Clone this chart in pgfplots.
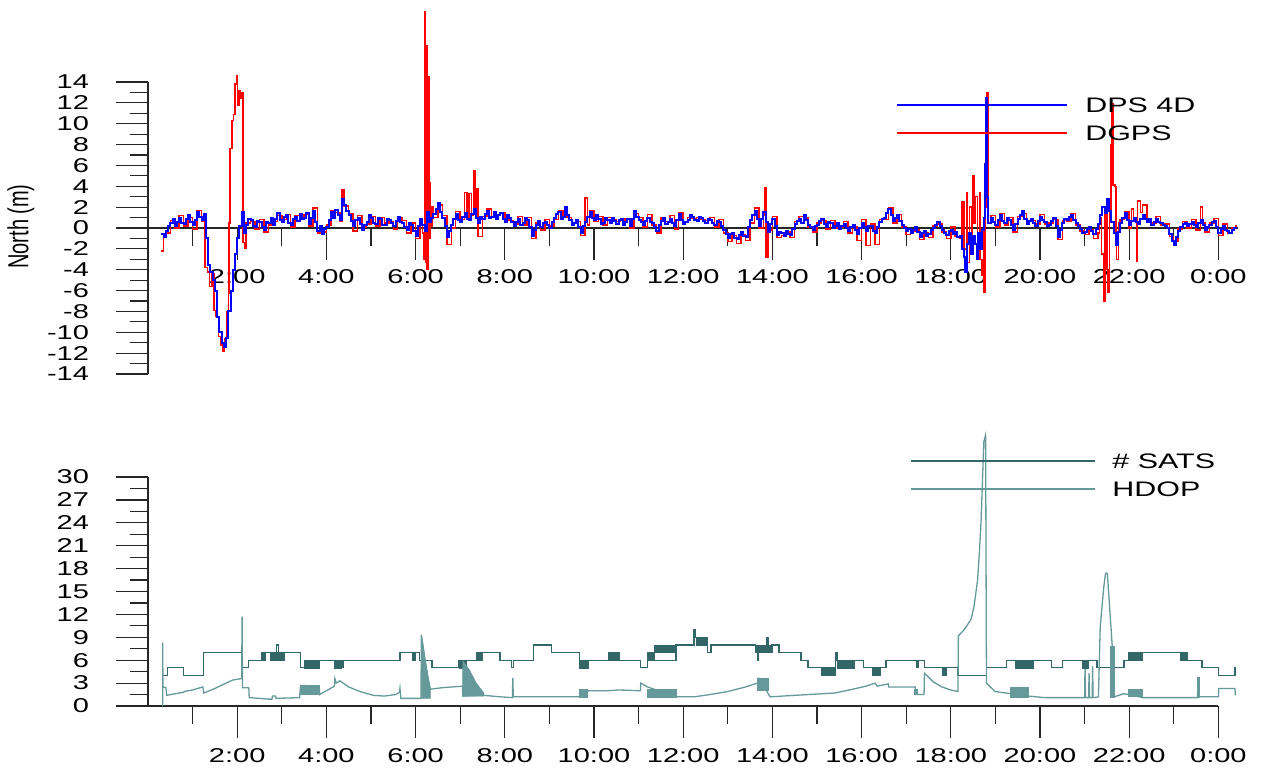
\documentclass[border=0pt]{standalone}
\usepackage{fontspec}
\setmainfont{Liberation Sans}[FakeStretch=1.45]
\newfontfamily\plainsans{Liberation Sans}
\usepackage{graphicx}
\usepackage{pgfplots}
\pgfplotsset{compat=1.18}
\definecolor{satsc}{RGB}{51,102,102}
\definecolor{hdopc}{RGB}{102,153,153}
\newcommand{\sblk}[4]{\addplot[fill=satsc, draw=satsc, line width=0.3pt, forget plot] coordinates {(#1,#3) (#1,#4) (#2,#4) (#2,#3)} --cycle;}
\newcommand{\hblk}[4]{\addplot[fill=hdopc, draw=hdopc, line width=0.3pt, forget plot] coordinates {(#1,#3) (#1,#4) (#2,#4) (#2,#3)} --cycle;}
\tikzset{legtext/.style={anchor=west, inner sep=0pt, text height=7.5pt, text depth=0pt, font=\fontsize{10.5}{12}\selectfont}}
\pgfplotsset{
  common/.style={
    scale only axis, clip=false,
    axis y line*=left,
    hide obscured x ticks=false, hide obscured y ticks=false,
    tick align=outside, major tick length=16pt, minor tick length=9pt,
    tick style={black!85, line width=0.6pt},
    minor tick style={black!85, line width=0.6pt},
    axis line style={black!85, line width=0.7pt},
    tick label style={font=\fontsize{10}{12}\selectfont},
    yticklabel style={xshift=-10pt},
    xticklabel style={yshift=-1.2pt},
    /pgf/number format/assume math mode=true,
    xtick={2,4,...,24},
    xticklabels={2:00,4:00,6:00,8:00,10:00,12:00,14:00,16:00,18:00,20:00,22:00,0:00},
    minor xtick={1,3,...,23},
  }
}
\begin{document}
\begin{tikzpicture}
\path[use as bounding box] (0,0) rectangle (632pt,386.5pt);
% ---------------- top panel ----------------
\begin{axis}[common,
  at={(74pt,199.5pt)}, anchor=south west,
  width=545.2pt, height=146pt,
  xmin=0, xmax=24.45, ymin=-14, ymax=14,
  axis x line*=middle,
  ytick={-14,-12,...,14}, minor ytick={-13,-11,...,13},
  ylabel={\scalebox{1}[1.45]{\plainsans North (m)}},
  every axis y label/.style={at={(axis description cs:-0.1165,0.505)}, anchor=center, rotate=90, font=\fontsize{10}{12}\selectfont},
]
\addplot[red, line width=0.75pt, const plot, forget plot] table {
h v
0.30 -2.2
0.35 -0.9
0.40 -0.5
0.50 0.7
0.60 0.0
0.70 1.2
0.80 0.2
0.90 1.0
1.00 -0.1
1.10 1.7
1.20 0.6
1.25 1.2
1.28 -3.8
1.33 -4.2
1.38 -5.6
1.43 -4.4
1.48 -7.9
1.53 -8.5
1.58 -10.4
1.63 -11.2
1.68 -11.8
1.72 -10.6
1.76 -8.0
1.80 -6.3
1.82 0.5
1.84 7.6
1.88 10.3
1.92 10.9
1.95 13.8
1.98 14.6
2.01 11.8
2.04 13.2
2.07 12.4
2.10 13.0
2.13 -1.4
2.16 -1.9
2.20 0.5
2.30 0.6
2.40 -0.1
2.50 0.8
2.60 -0.4
2.70 0.3
2.80 0.6
2.90 1.2
3.00 0.8
3.10 1.3
3.20 0.1
3.30 1.2
3.40 1.0
3.50 1.3
3.60 0.2
3.70 1.9
3.80 -0.5
3.90 -0.4
4.00 0.3
4.10 1.7
4.20 1.5
4.30 0.6
4.35 3.7
4.40 2.1
4.50 1.4
4.60 -0.3
4.70 1.2
4.80 0.1
4.90 0.4
5.00 1.1
5.10 0.2
5.20 1.0
5.30 0.5
5.40 0.6
5.50 -0.1
5.60 1.0
5.70 0.7
5.80 -0.5
5.90 0.5
6.00 -1.0
6.10 0.8
6.15 -0.5
6.18 -3.0
6.20 20.7
6.22 -3.3
6.24 17.5
6.26 -4.0
6.28 14.5
6.30 -1.0
6.32 4.3
6.34 0.2
6.37 2.0
6.40 1.0
6.50 2.2
6.60 1.2
6.70 -1.6
6.80 0.0
6.90 1.6
7.00 0.8
7.10 3.4
7.15 0.9
7.20 3.3
7.25 1.2
7.30 5.5
7.33 1.5
7.36 3.8
7.40 -0.8
7.50 1.1
7.60 1.8
7.70 1.0
7.80 1.2
7.90 1.5
8.00 0.8
8.10 0.7
8.20 0.4
8.30 1.1
8.40 0.3
8.50 1.0
8.60 -1.0
8.70 0.5
8.80 -0.2
8.90 0.8
9.00 0.2
9.10 0.8
9.20 1.7
9.30 1.0
9.35 1.9
9.40 1.0
9.50 0.5
9.60 0.6
9.70 -0.7
9.80 2.9
9.85 0.3
9.90 1.7
10.00 0.6
10.10 1.1
10.20 0.3
10.30 1.0
10.40 0.8
10.50 0.6
10.60 0.7
10.70 0.9
10.80 0.0
10.90 1.4
11.00 1.0
11.10 0.1
11.20 1.3
11.30 0.3
11.40 -0.5
11.50 1.0
11.60 0.6
11.70 1.2
11.80 -0.1
11.90 1.5
12.00 0.6
12.10 1.0
12.20 0.9
12.30 1.0
12.40 0.8
12.50 0.7
12.60 1.0
12.70 0.1
12.80 0.8
12.90 -0.5
13.00 -1.3
13.10 -0.7
13.20 -1.5
13.30 -0.6
13.40 -1.2
13.50 0.5
13.60 1.9
13.70 0.0
13.80 1.2
13.83 3.9
13.86 -2.8
13.90 -0.2
14.00 1.1
14.10 -0.9
14.20 -0.7
14.30 -0.4
14.40 -0.9
14.50 0.6
14.60 1.1
14.70 1.0
14.80 0.1
14.90 -0.4
15.00 0.5
15.10 0.7
15.20 -0.1
15.30 0.7
15.40 0.0
15.50 0.1
15.60 0.6
15.70 -0.5
15.80 0.1
15.90 -1.2
16.00 0.8
16.10 -1.7
16.20 0.4
16.30 -1.6
16.40 0.8
16.50 0.8
16.60 1.9
16.70 0.5
16.80 1.3
16.90 0.1
17.00 -0.6
17.10 -0.3
17.20 -0.2
17.30 -1.1
17.40 -0.5
17.50 -0.9
17.60 0.2
17.70 0.4
17.80 -0.4
17.90 -1.0
18.00 0.1
18.10 -0.8
18.20 -1.0
18.25 2.5
18.30 -2.0
18.36 3.4
18.38 -3.3
18.42 2.0
18.46 -1.5
18.49 5.0
18.52 0.5
18.56 3.0
18.60 -2.5
18.64 3.4
18.66 -3.0
18.70 -4.5
18.73 0.5
18.75 -6.2
18.78 2.0
18.80 13.0
18.83 12.0
18.85 0.5
18.90 1.2
19.00 0.1
19.10 1.4
19.20 0.3
19.30 1.0
19.40 -0.4
19.50 1.1
19.60 1.4
19.70 0.6
19.80 0.7
19.90 0.4
20.00 1.3
20.10 0.4
20.20 0.5
20.30 0.8
20.40 -1.1
20.50 0.7
20.60 0.6
20.70 1.4
20.80 0.3
20.90 -0.3
21.00 -0.6
21.10 -0.2
21.20 -1.0
21.30 -0.5
21.34 1.0
21.38 -2.5
21.42 -7.0
21.46 2.0
21.50 -4.0
21.53 -6.2
21.56 1.5
21.59 8.0
21.61 11.9
21.64 4.1
21.68 4.0
21.70 -1.5
21.72 -3.0
21.76 0.5
21.80 0.8
21.90 1.6
22.00 0.0
22.05 1.8
22.10 0.6
22.16 -3.2
22.19 2.6
22.25 1.5
22.30 2.2
22.40 0.8
22.50 0.5
22.60 1.1
22.70 0.3
22.80 0.4
22.90 -0.8
23.00 -1.3
23.10 -0.1
23.20 0.6
23.30 0.0
23.40 0.8
23.50 -0.2
23.60 2.0
23.65 0.5
23.70 -0.4
23.80 0.5
23.90 0.9
24.00 -0.7
24.10 0.4
24.20 -0.5
24.30 0.0
24.40 0.3
};
\addplot[blue, line width=1pt, const plot, forget plot] table {
h v
0.30 -0.6
0.35 -0.9
0.40 -0.3
0.45 0.2
0.50 0.5
0.55 0.9
0.60 0.2
0.65 0.6
0.70 1.0
0.75 0.5
0.80 0.4
0.85 0.9
0.90 1.2
0.95 0.6
1.00 0.3
1.05 0.8
1.10 1.5
1.15 1.1
1.20 0.8
1.25 1.3
1.30 -1.0
1.35 -3.5
1.40 -4.2
1.45 -5.0
1.50 -6.0
1.55 -8.5
1.60 -10.0
1.65 -11.0
1.70 -11.4
1.75 -10.5
1.80 -8.0
1.85 -6.0
1.90 -4.0
1.95 -2.5
2.00 -1.0
2.05 0.2
2.10 1.5
2.15 -0.5
2.20 0.3
2.25 0.9
2.30 0.8
2.35 0.2
2.40 0.1
2.45 0.7
2.50 0.6
2.55 0.1
2.60 -0.2
2.65 0.6
2.70 0.5
2.75 1.0
2.80 0.3
2.85 0.9
2.90 1.4
2.95 0.8
3.00 0.6
3.05 1.1
3.10 1.2
3.15 0.5
3.20 0.3
3.25 0.9
3.30 1.1
3.35 0.7
3.40 1.3
3.45 0.9
3.50 1.0
3.55 1.4
3.60 0.4
3.65 1.0
3.70 1.6
3.75 0.6
3.80 -0.3
3.85 0.2
3.90 -0.6
3.95 -0.1
4.00 0.1
4.05 0.8
4.10 1.5
4.15 1.0
4.20 1.7
4.25 1.2
4.30 0.8
4.35 2.8
4.40 2.2
4.45 1.6
4.50 1.2
4.55 0.7
4.60 0.2
4.65 0.8
4.70 1.0
4.75 0.4
4.80 -0.2
4.85 0.3
4.90 0.6
4.95 1.2
5.00 1.0
5.05 0.5
5.10 0.4
5.15 1.0
5.20 0.9
5.25 0.3
5.30 0.3
5.35 0.9
5.40 0.8
5.45 0.5
5.50 0.2
5.55 0.7
5.60 1.1
5.65 0.6
5.70 0.5
5.75 0.1
5.80 -0.2
5.85 0.5
5.90 0.3
5.95 -0.3
6.00 -0.8
6.05 0.2
6.10 0.9
6.15 0.3
6.20 -0.3
6.25 1.5
6.30 0.6
6.35 1.0
6.40 1.3
6.45 1.8
6.50 2.4
6.55 1.5
6.60 1.0
6.65 0.2
6.70 -0.9
6.75 -0.3
6.80 0.3
6.85 0.9
6.90 1.3
6.95 0.8
7.00 0.6
7.05 1.1
7.10 1.4
7.15 0.9
7.20 0.8
7.25 1.3
7.30 1.8
7.35 1.0
7.40 0.5
7.45 1.1
7.50 0.9
7.55 1.3
7.60 1.6
7.65 1.0
7.70 1.1
7.75 1.5
7.80 0.9
7.85 1.2
7.90 1.4
7.95 0.9
8.00 0.6
8.05 1.2
8.10 1.0
8.15 0.6
8.20 0.2
8.25 0.6
8.30 0.9
8.35 0.3
8.40 0.5
8.45 1.0
8.50 0.8
8.55 0.1
8.60 -0.8
8.65 -0.2
8.70 0.3
8.75 0.7
8.80 0.1
8.85 0.5
8.90 0.6
8.95 0.3
9.00 0.0
9.05 0.6
9.10 1.0
9.15 1.3
9.20 1.5
9.25 0.9
9.30 1.1
9.35 2.0
9.40 1.2
9.45 0.8
9.50 0.3
9.55 0.5
9.60 0.8
9.65 0.1
9.70 -0.5
9.75 0.2
9.80 0.6
9.85 1.1
9.90 1.5
9.95 1.0
10.00 0.8
10.05 1.2
10.10 0.9
10.15 0.4
10.20 0.5
10.25 1.0
10.30 0.8
10.35 0.5
10.40 1.0
10.45 0.7
10.50 0.4
10.55 0.8
10.60 0.9
10.65 0.3
10.70 0.6
10.75 0.9
10.80 0.2
10.85 0.9
10.90 1.6
10.95 1.1
11.00 0.8
11.05 0.6
11.10 0.3
11.15 0.7
11.20 1.0
11.25 0.6
11.30 0.5
11.35 0.1
11.40 -0.3
11.45 0.3
11.50 0.7
11.55 1.0
11.60 0.4
11.65 0.6
11.70 0.9
11.75 0.5
11.80 0.2
11.85 0.8
11.90 1.3
11.95 0.8
12.00 0.4
12.05 0.6
12.10 0.8
12.15 1.2
12.20 1.1
12.25 0.8
12.30 0.7
12.35 1.1
12.40 1.0
12.45 0.7
12.50 0.5
12.55 0.9
12.60 0.8
12.65 0.5
12.70 0.3
12.75 0.7
12.80 0.6
12.85 0.2
12.90 -0.2
12.95 -0.6
13.00 -1.0
13.05 -0.6
13.10 -0.5
13.15 -1.0
13.20 -1.1
13.25 -0.7
13.30 -0.4
13.35 -0.8
13.40 -0.9
13.45 0.1
13.50 0.8
13.55 1.2
13.60 1.6
13.65 0.9
13.70 0.2
13.75 0.9
13.80 1.5
13.85 0.6
13.90 -0.4
13.95 0.4
14.00 0.9
14.05 0.2
14.10 -0.7
14.15 -0.4
14.20 -0.5
14.25 -0.8
14.30 -0.3
14.35 -0.6
14.40 -0.7
14.45 -0.1
14.50 0.4
14.55 0.7
14.60 0.9
14.65 0.5
14.70 1.2
14.75 0.8
14.80 0.3
14.85 0.1
14.90 -0.2
14.95 0.2
15.00 0.3
15.05 0.7
15.10 0.9
15.15 0.4
15.20 0.1
15.25 0.6
15.30 0.5
15.35 0.0
15.40 0.2
15.45 0.5
15.50 -0.1
15.55 0.2
15.60 0.4
15.65 0.0
15.70 -0.3
15.75 0.1
15.80 0.3
15.85 -0.2
15.90 -0.6
15.95 0.0
16.00 0.5
16.05 0.1
16.10 -0.3
16.15 0.2
16.20 0.2
16.25 -0.3
16.30 -0.5
16.35 0.1
16.40 0.6
16.45 0.9
16.50 1.0
16.55 1.4
16.60 1.8
16.65 1.2
16.70 0.7
16.75 1.0
16.80 1.2
16.85 0.7
16.90 0.3
16.95 0.0
17.00 -0.3
17.05 -0.1
17.10 -0.5
17.15 -0.2
17.20 0.1
17.25 -0.4
17.30 -0.9
17.35 -0.5
17.40 -0.3
17.45 -0.8
17.50 -0.6
17.55 -0.2
17.60 0.0
17.65 0.3
17.70 0.6
17.75 0.2
17.80 -0.2
17.85 -0.5
17.90 -0.7
17.95 -0.3
18.00 -0.2
18.05 -0.6
18.10 -0.4
18.15 -0.9
18.20 -0.8
18.25 -2.0
18.30 -2.8
18.33 -4.2
18.37 -1.5
18.42 -0.5
18.46 -2.5
18.50 -0.8
18.55 -1.5
18.58 -3.0
18.62 -0.5
18.66 -2.0
18.70 -0.2
18.74 1.0
18.76 6.1
18.79 12.5
18.81 3.0
18.84 0.5
18.90 1.0
18.95 0.6
19.00 0.3
19.05 0.8
19.10 1.2
19.15 0.7
19.20 0.5
19.25 1.0
19.30 0.8
19.35 0.3
19.40 -0.2
19.45 0.4
19.50 0.9
19.55 1.2
19.60 1.6
19.65 0.9
19.70 0.4
19.75 0.7
19.80 0.9
19.85 0.5
19.90 0.2
19.95 0.7
20.00 1.1
20.05 0.8
20.10 0.6
20.15 0.2
20.20 0.3
20.25 0.7
20.30 1.0
20.35 0.2
20.40 -0.9
20.45 -0.2
20.50 0.5
20.55 0.9
20.60 0.8
20.65 1.1
20.70 1.2
20.75 0.8
20.80 0.5
20.85 0.2
20.90 -0.1
20.95 -0.5
21.00 -0.4
21.05 -0.1
21.10 0.1
21.15 -0.3
21.20 -0.6
21.25 -0.1
21.30 0.4
21.35 1.2
21.40 2.0
21.45 1.4
21.50 2.8
21.55 1.6
21.60 0.6
21.65 -0.5
21.70 -1.6
21.75 -0.4
21.80 0.5
21.85 1.0
21.90 1.4
21.95 0.8
22.00 0.3
22.05 0.7
22.10 1.0
22.15 0.6
22.20 0.4
22.25 0.9
22.30 1.2
22.35 0.9
22.40 0.6
22.45 0.9
22.50 0.3
22.55 0.6
22.60 0.9
22.65 0.6
22.70 0.5
22.75 0.3
22.80 0.2
22.85 0.0
22.90 -0.6
22.95 -1.2
23.00 -1.6
23.05 -0.9
23.10 -0.3
23.15 0.1
23.20 0.4
23.25 0.5
23.30 0.2
23.35 0.4
23.40 0.6
23.45 0.3
23.50 0.1
23.55 0.5
23.60 0.8
23.65 0.3
23.70 -0.2
23.75 0.1
23.80 0.3
23.85 0.6
23.90 0.7
23.95 0.1
24.00 -0.5
24.05 -0.1
24.10 0.2
24.15 -0.2
24.20 -0.3
24.25 -0.5
24.30 -0.2
24.35 0.0
24.40 0.1
};
% legend
\draw[blue, line width=0.7pt] (rel axis cs:0.6868,0.9212) -- (rel axis cs:0.8427,0.9212);
\draw[red, line width=0.7pt] (rel axis cs:0.6868,0.8253) -- (rel axis cs:0.8427,0.8253);
\node[legtext] at (rel axis cs:0.8592,0.9212) {DPS 4D};
\node[legtext] at (rel axis cs:0.8592,0.8253) {DGPS};
\end{axis}
% ---------------- bottom panel ----------------
\begin{axis}[common,
  at={(74pt,33.5pt)}, anchor=south west,
  width=535.2pt, height=114.5pt,
  xmin=0, xmax=24, ymin=0, ymax=30,
  axis x line*=bottom,
  xticklabel style={yshift=-0.6pt},
  ytick={0,3,...,30}, minor ytick={1.5,4.5,...,28.5},
]
\addplot[satsc, line width=0.65pt, const plot, forget plot] table {
h v
0.33 4
0.43 5
0.80 4
1.25 7
2.12 5
2.26 6
2.54 7
2.88 8
2.92 7
3.42 5
3.84 6
4.18 5
4.37 6
5.65 7
6.09 6
6.37 5
6.97 6
7.49 7
7.89 6
8.15 5
8.20 6
8.65 8
9.04 7
9.68 5
9.88 6
11.04 5
11.20 6
11.84 8
12.24 10
12.27 9
12.55 7
12.62 8
13.62 7
13.66 6
13.69 7
13.88 9
13.91 7
13.99 8
14.15 7
14.64 6
14.80 5
15.42 7
15.45 6
16.04 5
16.55 6
17.24 5
17.28 6
17.41 5
18.16 4
18.80 5
19.25 6
20.26 5
20.50 6
21.28 5
21.88 6
21.99 7
23.30 6
23.63 5
24.00 4
24.37 5
24.38 5
};
\addplot[hdopc, line width=0.65pt, forget plot] table {
h v
0.33 0
0.33 8.3
0.335 2.5
0.40 2.4
0.42 1.4
0.60 1.6
0.80 1.8
0.81 1.9
1.00 2.1
1.23 2.5
1.25 1.7
1.50 2.3
1.75 3.0
1.90 3.4
2.10 3.6
2.11 11.7
2.12 2.4
2.26 2.4
2.27 1.1
2.50 1.0
2.70 0.9
2.78 0.9
2.79 1.3
2.86 1.3
2.87 1.0
3.40 1.1
3.42 2.7
3.84 2.6
3.85 1.5
4.00 2.0
4.18 2.6
4.19 3.6
4.22 3.0
4.30 3.3
4.50 2.5
4.75 1.9
5.05 1.4
5.30 1.3
5.55 1.5
5.64 1.8
5.65 2.3
5.67 1.0
6.12 1.0
6.13 9.3
6.20 6.5
6.27 4.0
6.33 2.2
6.60 2.4
7.05 2.6
7.06 1.3
7.53 1.4
7.90 1.2
8.17 1.1
8.18 3.7
8.19 1.2
9.68 1.2
9.88 2.0
10.30 2.0
10.56 2.1
11.04 2.0
11.05 3.0
11.20 2.5
11.84 1.2
12.24 1.2
12.60 1.5
13.00 1.9
13.40 2.5
13.66 3.0
13.70 3.6
13.95 1.2
14.50 1.4
15.40 1.7
15.80 2.2
16.10 2.6
16.30 3.0
16.35 2.6
16.60 2.9
16.61 2.5
17.20 2.5
17.21 1.5
17.40 1.5
17.41 4.3
17.60 3.2
17.80 2.5
18.00 2.1
18.16 1.9
18.17 9.2
18.30 10.0
18.45 11.3
18.52 13.0
18.60 16.5
18.64 20.0
18.68 24.4
18.74 34.6
18.78 35.5
18.80 3.0
18.99 1.9
19.36 1.6
19.74 1.3
20.11 1.1
21.00 1.1
21.01 5.2
21.02 1.1
21.09 1.1
21.10 4.3
21.11 1.1
21.17 1.1
21.18 5.2
21.19 1.1
21.31 1.2
21.35 10.4
21.43 15.6
21.47 17.4
21.51 17.4
21.55 13.9
21.62 7.8
21.66 1.2
21.88 1.6
22.00 1.5
22.30 1.1
23.53 1.1
23.55 3.8
23.57 1.2
24.00 1.2
24.01 2.3
24.37 2.3
24.38 1.4
};
% rapid-switching blocks, # SATS
\sblk{2.54}{2.62}{6}{7}
\sblk{2.74}{3.06}{6}{7}
\sblk{3.50}{3.84}{5}{6}
\sblk{4.18}{4.34}{5}{6}
\sblk{5.93}{6.00}{6}{7}
\sblk{6.97}{7.13}{5}{6}
\sblk{7.37}{7.49}{6}{7}
\sblk{9.68}{9.88}{5}{6}
\sblk{10.32}{10.56}{6}{7}
\sblk{11.20}{11.36}{6}{7}
\sblk{11.36}{11.84}{7}{8}
\sblk{12.30}{12.55}{8}{9}
\sblk{13.62}{13.99}{7}{8}
\sblk{15.10}{15.42}{4}{5}
\sblk{15.45}{15.83}{5}{6}
\sblk{16.25}{16.42}{4}{5}
\sblk{17.82}{17.90}{4}{5}
\sblk{19.44}{19.85}{5}{6}
\sblk{20.94}{21.09}{5}{6}
\sblk{21.99}{22.30}{6}{7}
\sblk{23.14}{23.30}{6}{7}
% rapid-switching blocks, HDOP
\hblk{3.42}{3.84}{1.5}{2.7}
\hblk{9.68}{9.85}{1.2}{2.2}
\hblk{11.20}{11.84}{1.2}{2.2}
\hblk{13.66}{13.90}{2.0}{3.6}
\hblk{17.18}{17.25}{1.5}{2.2}
\hblk{19.33}{19.74}{1.2}{2.5}
\hblk{21.58}{21.66}{1.2}{7.8}
\hblk{21.99}{22.30}{1.3}{2.2}
\hblk{23.53}{23.58}{1.2}{3.8}
\addplot[fill=hdopc, draw=hdopc, line width=0.3pt, forget plot] coordinates {(6.13,1.0) (6.13,9.3) (6.18,7.5) (6.23,5.5) (6.28,3.8) (6.33,2.2) (6.33,1.0)} --cycle;
\addplot[fill=hdopc, draw=hdopc, line width=0.3pt, forget plot] coordinates {(7.05,1.3) (7.06,5.9) (7.20,4.8) (7.35,3.1) (7.53,1.7) (7.53,1.3)} --cycle;
% legend
\draw[satsc, line width=0.7pt] (rel axis cs:0.7128,1.0699) -- (rel axis cs:0.8847,1.0699);
\draw[hdopc, line width=0.7pt] (rel axis cs:0.7128,0.9476) -- (rel axis cs:0.8847,0.9476);
\node[legtext] at (rel axis cs:0.9006,1.0699) {\# SATS};
\node[legtext] at (rel axis cs:0.9006,0.9476) {HDOP};
\end{axis}
\end{tikzpicture}
\end{document}
